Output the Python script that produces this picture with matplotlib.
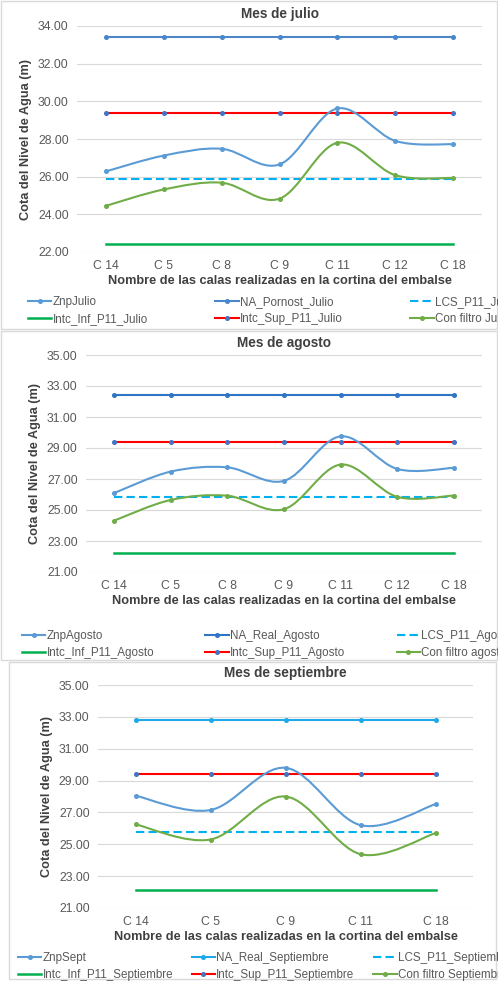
import matplotlib

matplotlib.use("Agg")
import matplotlib.pyplot as plt
import numpy as np
from matplotlib.lines import Line2D
from matplotlib.patches import PathPatch, Rectangle
from matplotlib.path import Path

plt.rcParams["font.family"] = ["Liberation Sans", "DejaVu Sans"]

CALAS_JUL = ["C 14", "C 5", "C 8", "C 9", "C 11", "C 12", "C 18"]
CALAS_AGO = ["C 14", "C 5", "C 8", "C 9", "C 11", "C 12", "C 18"]
CALAS_SEP = ["C 14", "C 5", "C 9", "C 11", "C 18"]

znp_jul = [26.28, 27.12, 27.48, 26.65, 29.62, 27.90, 27.72]
filtro_jul = [24.45, 25.32, 25.68, 24.83, 27.80, 26.08, 25.93]
na_jul, sup_jul, lcs_jul, inf_jul = 33.40, 29.40, 25.90, 22.40

znp_ago = [26.10, 27.48, 27.75, 26.88, 29.75, 27.65, 27.72]
filtro_ago = [24.32, 25.65, 25.92, 25.05, 27.93, 25.85, 25.93]
na_ago, sup_ago, lcs_ago, inf_ago = 32.45, 29.40, 25.85, 22.25

znp_sep = [28.05, 27.15, 29.80, 26.20, 27.52]
filtro_sep = [26.25, 25.30, 28.00, 24.38, 25.70]
na_sep, sup_sep, lcs_sep, inf_sep = 32.80, 29.40, 25.80, 22.15

C_ZNP = "#5B9BD5"
C_FIL = "#70AD47"
C_SUP = "#FF0000"
C_INF = "#00B050"
C_LCS = "#00B0F0"
W, H = 498, 981


def smooth(ax, xs, ys, color):
    # Catmull-Rom as cubic Bezier, like Excel's smoothed lines
    pts = np.column_stack([xs, ys]).astype(float)
    verts = [pts[0]]
    codes = [Path.MOVETO]
    n = len(pts)
    for i in range(n - 1):
        p0 = pts[max(i - 1, 0)]
        p1, p2 = pts[i], pts[i + 1]
        p3 = pts[min(i + 2, n - 1)]
        verts += [p1 + (p2 - p0) / 6, p2 - (p3 - p1) / 6, p2]
        codes += [Path.CURVE4] * 3
    ax.add_patch(PathPatch(Path(verts, codes), fill=False, edgecolor=color, lw=1.5, zorder=3))
    ax.plot(xs, ys, "o", color=color, ms=2.6, zorder=4)


def panel(rect, box, title, cats, znp, fil, na, sup, lcs, inf, na_color, yticks,
          labels, legend_y, legend_x, colsp):
    fig.patches.append(Rectangle((box[0] / W, 1 - box[3] / H), (box[2] - box[0]) / W,
                                 (box[3] - box[1]) / H, transform=fig.transFigure,
                                 fill=False, edgecolor="#D9D9D9", lw=1))
    l, t, r, b = rect
    ax = fig.add_axes([l / W, 1 - b / H, (r - l) / W, (b - t) / H])
    x = np.arange(len(cats))
    ax.plot(x, [na] * len(x), "-o", color=na_color, lw=1.5, ms=2.6, zorder=3)
    ax.plot(x, [sup] * len(x), "-", color=C_SUP, lw=1.5, zorder=3)
    ax.plot(x, [sup] * len(x), "o", color="#4472C4", ms=2.6, zorder=4)
    ax.plot(x, [lcs] * len(x), "--", color=C_LCS, lw=1.5, dashes=(4, 2), zorder=3)
    ax.plot(x, [inf] * len(x), "-", color=C_INF, lw=1.8, zorder=3)
    smooth(ax, x, znp, C_ZNP)
    smooth(ax, x, fil, C_FIL)
    ax.set_xlim(-0.5, len(cats) - 0.5)
    ax.set_ylim(yticks[0], yticks[-1])
    ax.set_yticks(yticks)
    ax.set_yticklabels([f"{v:.2f}" for v in yticks])
    ax.set_xticks(x)
    ax.set_xticklabels(cats)
    ax.grid(axis="y", color="#D9D9D9", lw=0.8)
    ax.set_axisbelow(True)
    for s in ax.spines.values():
        s.set_visible(False)
    ax.tick_params(length=0, labelsize=8.8, colors="#595959", pad=6)
    ax.set_title(title, fontsize=9.8, fontweight="bold", color="#404040", pad=6)
    ax.set_ylabel("Cota del Nivel de Agua (m)", fontsize=9.2, fontweight="bold", color="#404040")
    ax.set_xlabel("Nombre de las calas realizadas en la cortina del embalse", fontsize=9.2,
                  fontweight="bold", color="#404040", labelpad=2)
    handles = [
        Line2D([], [], color=C_ZNP, marker="o", ms=2.6, lw=1.5),
        Line2D([], [], color=C_INF, lw=1.8),
        Line2D([], [], color=na_color, marker="o", ms=2.6, lw=1.5),
        Line2D([], [], color=C_SUP, marker="o", mfc="#4472C4", mec="#4472C4", ms=2.6, lw=1.5),
        Line2D([], [], color=C_LCS, ls="--", dashes=(4, 2), lw=1.5),
        Line2D([], [], color=C_FIL, marker="o", ms=2.6, lw=1.5),
    ]
    order = [labels[0], labels[3], labels[1], labels[4], labels[2], labels[5]]
    fig.legend(handles, order, ncol=3, loc="upper left", bbox_to_anchor=(legend_x / W, 1 - legend_y / H),
               frameon=False, fontsize=8.4, handlelength=2.0, handletextpad=0.1,
               columnspacing=colsp, labelspacing=0.45, borderaxespad=0, borderpad=0,
               labelcolor="#595959")
    return ax


fig = plt.figure(figsize=(W / 100, H / 100), dpi=100)

panel((77, 26, 482, 252), (1, 1, 497, 329), "Mes de julio", CALAS_JUL, znp_jul, filtro_jul,
      na_jul, sup_jul, lcs_jul, inf_jul, "#4A86C8", [22, 24, 26, 28, 30, 32, 34],
      ["ZnpJulio", "NA_Pornost_Julio", "LCS_P11_Julio",
       "Intc_Inf_P11_Julio", "Intc_Sup_P11_Julio", "Con filtro Julio"], 296, 28, 5.8)

panel((86, 355, 482, 572), (1, 331, 497, 660), "Mes de agosto", CALAS_AGO, znp_ago, filtro_ago,
      na_ago, sup_ago, lcs_ago, inf_ago, "#2E75C6", [21, 23, 25, 27, 29, 31, 33, 35],
      ["ZnpAgosto", "NA_Real_Agosto", "LCS_P11_Agosto",
       "Intc_Inf_P11_Agosto", "Intc_Sup_P11_Agosto", "Con filtro agosto"], 630, 22, 4.4)

panel((98, 685, 473, 908), (9, 662, 496, 979), "Mes de septiembre", CALAS_SEP, znp_sep, filtro_sep,
      na_sep, sup_sep, lcs_sep, inf_sep, "#1FA9E8", [21, 23, 25, 27, 29, 31, 33, 35],
      ["ZnpSept", "NA_Real_Septiembre", "LCS_P11_Septiembre",
       "Intc_Inf_P11_Septiembre", "Intc_Sup_P11_Septiembre", "Con filtro Septiembre"], 952, 18, 1.6)

fig.savefig("out.png", dpi=100)
